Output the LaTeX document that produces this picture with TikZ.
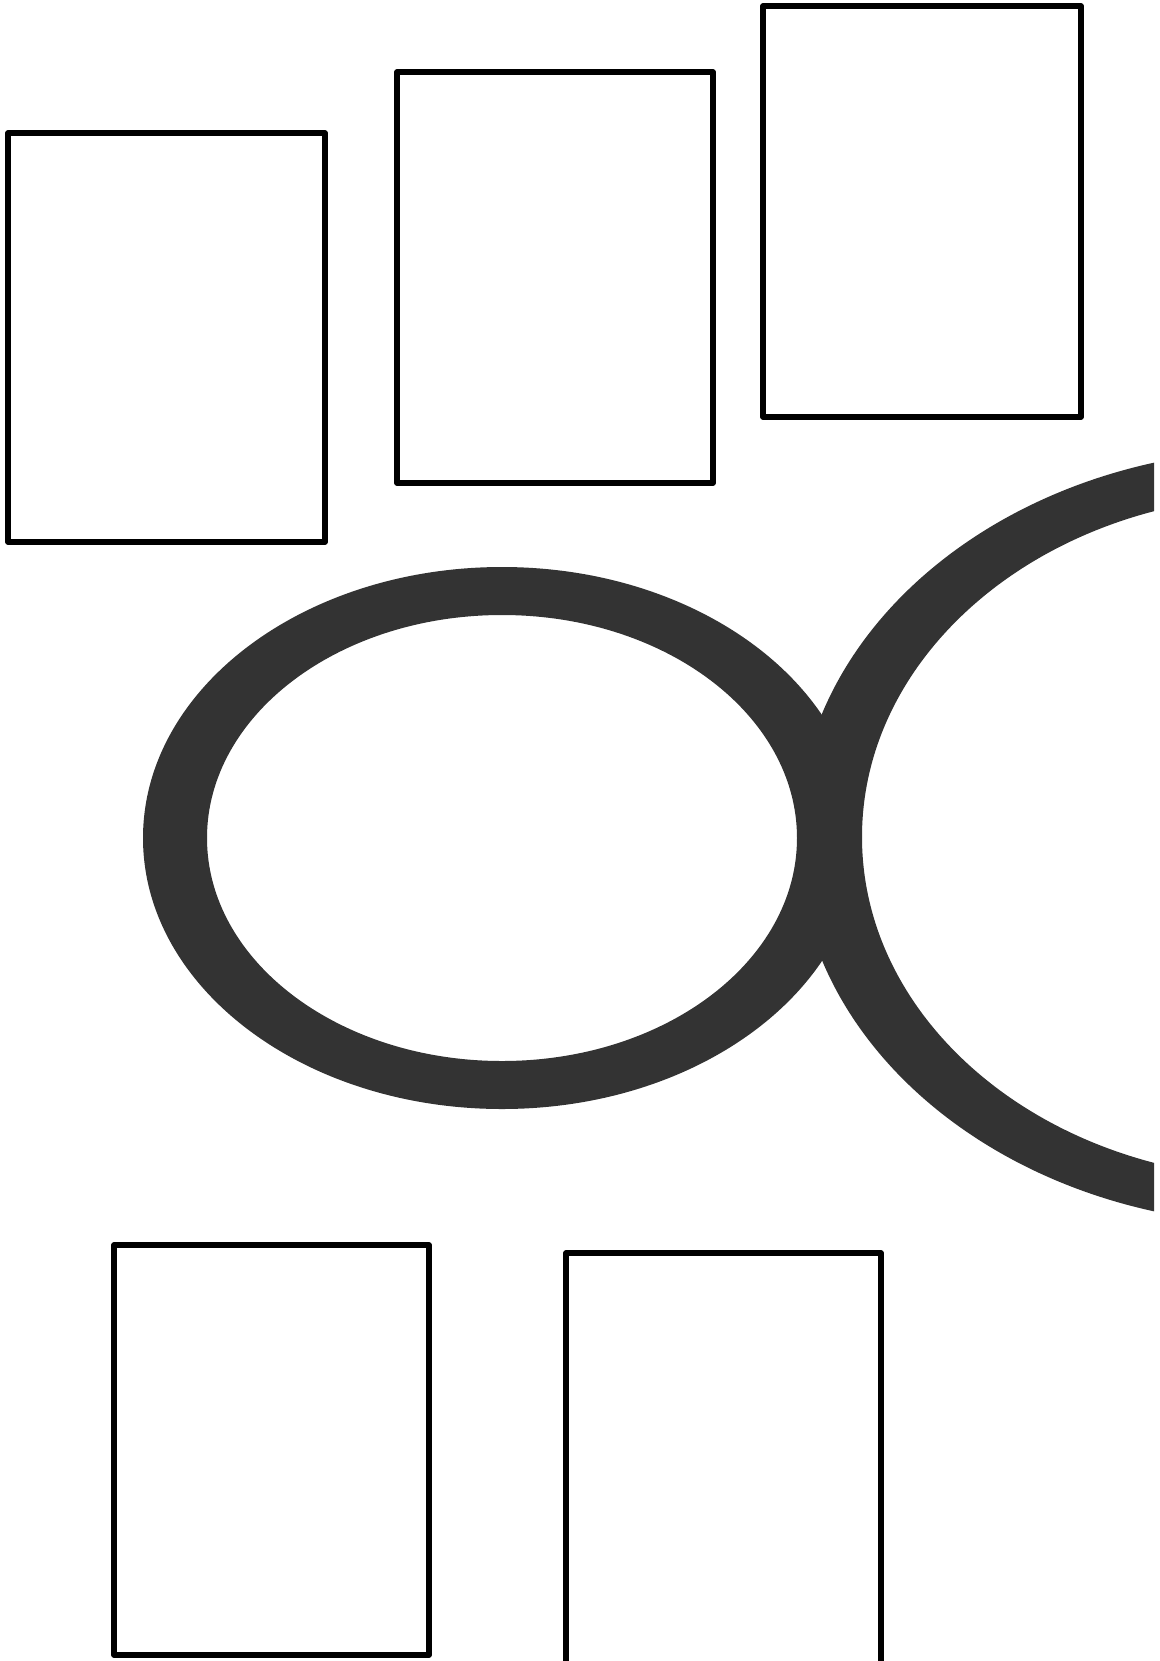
\documentclass[tikz,border=0pt]{standalone}
\usetikzlibrary{positioning}
\definecolor{ringgray}{HTML}{333333}
\tikzset{panel/.style={draw=black,line width=4pt,line join=round},
  ring/.style={fill=ringgray,even odd rule}}
\begin{document}
\begin{tikzpicture}[x=.75pt,y=-.75pt]
\useasboundingbox(0,0)rectangle(1160,1661);\clip(0,0)rectangle(1160,1661);
% upper row of panels
\draw[panel](8,133)rectangle(325,542);\draw[panel](397,72)rectangle(713,483);
\draw[panel](763,6)rectangle(1081,417);
% the two rings, right one runs off the edge
\fill[ring](502,838)ellipse[x radius=359,y radius=271](502,838)ellipse[x radius=295,y radius=223];
\begin{scope}\clip(0,0)rectangle(1154,1661);
\fill[ring](1282,837)ellipse[x radius=485,y radius=388](1282,837)ellipse[x radius=420,y radius=342];
\end{scope}
% lower row of panels
\draw[panel](114,1245)rectangle(429,1655);\draw[panel](566,1253)rectangle(881,1664);
\end{tikzpicture}
\end{document}
